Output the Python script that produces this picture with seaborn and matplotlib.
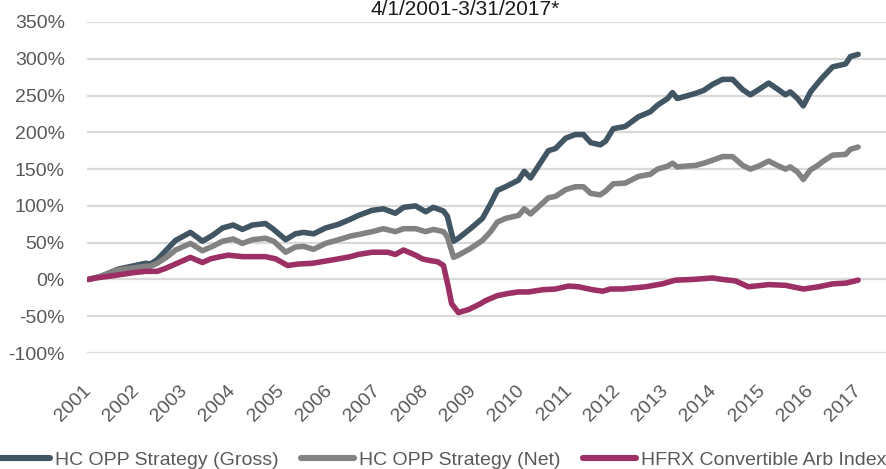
import matplotlib
matplotlib.use("Agg")
import matplotlib.pyplot as plt
import matplotlib.ticker as mticker
from matplotlib.lines import Line2D
import seaborn as sns
import pandas as pd
from matplotlib import font_manager

# ---------------- data (cumulative return, %) ----------------
opp_dates = [2001.25, 2001.50, 2001.87, 2002.44, 2002.54, 2002.68, 2002.87, 2003.06, 2003.37, 2003.62,
             2003.83, 2004.04, 2004.26, 2004.45, 2004.66, 2004.93, 2005.10, 2005.35, 2005.55, 2005.72,
             2005.93, 2006.18, 2006.45, 2006.70, 2006.86, 2007.15, 2007.38, 2007.63, 2007.80, 2008.05,
             2008.26, 2008.42, 2008.63, 2008.71, 2008.84, 2008.94, 2009.19, 2009.44, 2009.61, 2009.75,
             2009.92, 2010.19, 2010.31, 2010.44, 2010.61, 2010.81, 2010.96, 2011.17, 2011.37, 2011.54,
             2011.69, 2011.89, 2012.00, 2012.16, 2012.41, 2012.68, 2012.93, 2013.08, 2013.29, 2013.39,
             2013.49, 2013.66, 2013.87, 2014.04, 2014.22, 2014.43, 2014.64, 2014.85, 2015.01, 2015.18,
             2015.39, 2015.57, 2015.74, 2015.84, 2015.99, 2016.11, 2016.26, 2016.41, 2016.53, 2016.72,
             2016.99, 2017.09, 2017.25]
gross = [0, 4, 14, 22, 21, 27, 40, 53, 64, 52,
         60, 70, 74, 68, 74, 76, 68, 54, 62, 64,
         62, 70, 75, 82, 87, 94, 96, 90, 98, 100,
         92, 98, 93, 86, 52, 56, 69, 83, 103, 121,
         126, 135, 147, 138, 155, 175, 178, 192, 197, 197,
         186, 183, 188, 205, 208, 221, 228, 237, 246, 254,
         246, 249, 253, 257, 265, 272, 272, 258, 251, 258,
         267, 259, 251, 255, 246, 236, 255, 267, 276, 289,
         293, 303, 306]
net = [0, 4, 13, 18, 18, 22, 30, 40, 49, 39,
       45, 52, 55, 49, 54, 56, 52, 37, 44, 45,
       41, 49, 54, 59, 61, 65, 69, 65, 69, 69,
       65, 68, 65, 58, 30, 33, 42, 53, 65, 78,
       83, 87, 96, 89, 99, 111, 113, 122, 126, 126,
       117, 115, 120, 130, 131, 140, 143, 150, 154, 158,
       153, 154, 155, 158, 162, 167, 167, 155, 150, 154,
       161, 155, 150, 153, 146, 136, 149, 155, 161, 169,
       170, 177, 180]
hfrx_dates = [2001.25, 2001.40, 2001.75, 2002.16, 2002.44, 2002.68, 2002.85, 2003.06, 2003.37, 2003.62,
              2003.79, 2003.99, 2004.16, 2004.45, 2004.66, 2004.93, 2005.14, 2005.39, 2005.62, 2005.91,
              2006.18, 2006.45, 2006.70, 2006.86, 2007.15, 2007.47, 2007.63, 2007.80, 2008.05, 2008.19,
              2008.32, 2008.51, 2008.63, 2008.73, 2008.80, 2008.94, 2009.15, 2009.40, 2009.50, 2009.75,
              2009.98, 2010.19, 2010.40, 2010.69, 2010.96, 2011.23, 2011.44, 2011.73, 2011.94, 2012.10,
              2012.35, 2012.83, 2013.18, 2013.45, 2013.81, 2014.22, 2014.43, 2014.70, 2014.97, 2015.39,
              2015.74, 2016.11, 2016.43, 2016.72, 2016.99, 2017.25]
hfrx = [0, 2, 5, 9, 11, 11, 15, 21, 30, 23,
        28, 31, 33, 31, 31, 31, 28, 19, 21, 22,
        25, 28, 31, 34, 37, 37, 34, 40, 33, 28,
        26, 24, 19, -10, -33, -45, -41, -33, -29, -22,
        -19, -17, -17, -14, -13, -9, -10, -14, -16, -13,
        -13, -10, -6, -1, 0, 2, 0, -2, -10, -7,
        -8, -13, -10, -6, -5, -1]

series_names = ["HC OPP Strategy (Gross)", "HC OPP Strategy (Net)", "HFRX Convertible Arb Index"]
colors = ["#415562", "#828282", "#9C2F63"]
year_labels = [str(y) for y in range(2001, 2018)]
title_text = "4/1/2001-3/31/2017*"

# ---------------- build long table ----------------
df = pd.concat([
    pd.DataFrame({"date": opp_dates, "value": gross, "series": series_names[0]}),
    pd.DataFrame({"date": opp_dates, "value": net, "series": series_names[1]}),
    pd.DataFrame({"date": hfrx_dates, "value": hfrx, "series": series_names[2]}),
], ignore_index=True)

sns.set_theme(style="white")
avail = {f.name for f in font_manager.fontManager.ttflist}
fam = [f for f in ["Liberation Sans Narrow", "Liberation Sans", "DejaVu Sans"] if f in avail]
plt.rcParams["font.family"] = fam

FS = 14

fig = plt.figure(figsize=(8.87, 4.69), dpi=100)
ax = fig.add_axes([87 / 887, 1 - 353 / 469, 1 - 87 / 887, (353 - 22) / 469])

sns.lineplot(data=df, x="date", y="value", hue="series", hue_order=series_names,
             palette=colors, linewidth=4.0, ax=ax, legend=False, sort=False,
             solid_capstyle="round", solid_joinstyle="round")

ax.set_ylim(-100, 350)
ax.set_xlim(2001.22, 2017.85)
ax.yaxis.set_major_locator(mticker.MultipleLocator(50))
ax.yaxis.set_major_formatter(mticker.FuncFormatter(lambda v, p: f"{v:.0f}%"))
ax.grid(axis="y", color="#D9D9D9", linewidth=1.6)
ax.set_axisbelow(True)
for s in ax.spines.values():
    s.set_visible(False)

ticks = [int(y) + 0.38 for y in year_labels]
ax.set_xticks(ticks)
ax.set_xticklabels(year_labels, rotation=45, ha="right", va="top")
ax.tick_params(axis="x", length=0, pad=21, labelsize=FS, labelcolor="#595959")
ax.tick_params(axis="y", length=0, pad=16, labelsize=FS, labelcolor="#595959")
ax.set_xlabel("")
ax.set_ylabel("")

fig.text(465 / 887, 1 - 15 / 469, title_text, ha="center", va="baseline",
         fontsize=15, color="#1A1A1A")

handles = [Line2D([0], [0], color=c, linewidth=4.4, solid_capstyle="round") for c in colors]
fig.legend(handles, series_names, loc="center left", bbox_to_anchor=(-0.004, 1 - 460 / 469),
           ncol=3, frameon=False, fontsize=FS, labelcolor="#595959",
           handlelength=2.75, handletextpad=0.25, columnspacing=1.15, borderpad=0,
           borderaxespad=0)

fig.savefig("out.png", dpi=100)
